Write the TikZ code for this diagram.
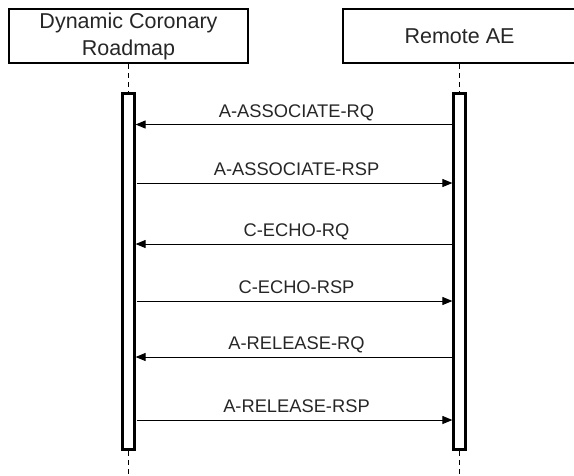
\documentclass[tikz,border=0pt]{standalone}
\usepackage{fontspec}
\setmainfont{Liberation Sans}
\usetikzlibrary{arrows.meta}
\definecolor{txt}{HTML}{262626}
\begin{document}
\begin{tikzpicture}[x=1pt,y=-1pt,
 hdr/.style={draw,line width=2.2pt,minimum height=54pt,inner sep=0pt,align=center,text=txt,font=\fontsize{21.5}{27}\selectfont},
 bar/.style={draw,line width=2.2pt,fill=white,minimum width=12pt,minimum height=356pt,inner sep=0pt},
 life/.style={dash pattern=on 5pt off 4pt,line width=1pt},
 msg/.style={line width=1pt,-{Triangle[length=10pt,width=8pt]}},
 lbl/.style={font=\fontsize{18.3}{22}\selectfont,text=txt,midway,anchor=base,yshift=7.5pt,xshift=2.5pt}]
\useasboundingbox (0,0) rectangle (574,475);
\node[hdr,minimum width=239pt] (dcr) at (128.5,36) {Dynamic Coronary\\Roadmap};
\node[hdr,minimum width=233pt] (rae) at (459.5,36) {Remote AE};
\coordinate (dcrEnd) at (128.5,476);
\coordinate (raeEnd) at (459.5,476);
\draw[life] (dcr.south) -- (dcrEnd);
\draw[life] (rae.south) -- (raeEnd);
\node[bar] (lb) at (128.5,271.5) {};
\node[bar] (rb) at (459.5,271.5) {};
\coordinate (m1) at (0,124.5);
\coordinate (m2) at (0,183);
\coordinate (m3) at (0,244);
\coordinate (m4) at (0,301);
\coordinate (m5) at (0,357);
\coordinate (m6) at (0,420);
\draw[msg] (rb.west |- m1) -- (lb.east |- m1) node[lbl] {A-ASSOCIATE-RQ};
\draw[msg,shorten <=1pt] (lb.east |- m2) -- (rb.west |- m2) node[lbl] {A-ASSOCIATE-RSP};
\draw[msg] (rb.west |- m3) -- (lb.east |- m3) node[lbl] {C-ECHO-RQ};
\draw[msg,shorten <=1pt] (lb.east |- m4) -- (rb.west |- m4) node[lbl] {C-ECHO-RSP};
\draw[msg] (rb.west |- m5) -- (lb.east |- m5) node[lbl] {A-RELEASE-RQ};
\draw[msg,shorten <=1pt] (lb.east |- m6) -- (rb.west |- m6) node[lbl] {A-RELEASE-RSP};
\end{tikzpicture}
\end{document}
